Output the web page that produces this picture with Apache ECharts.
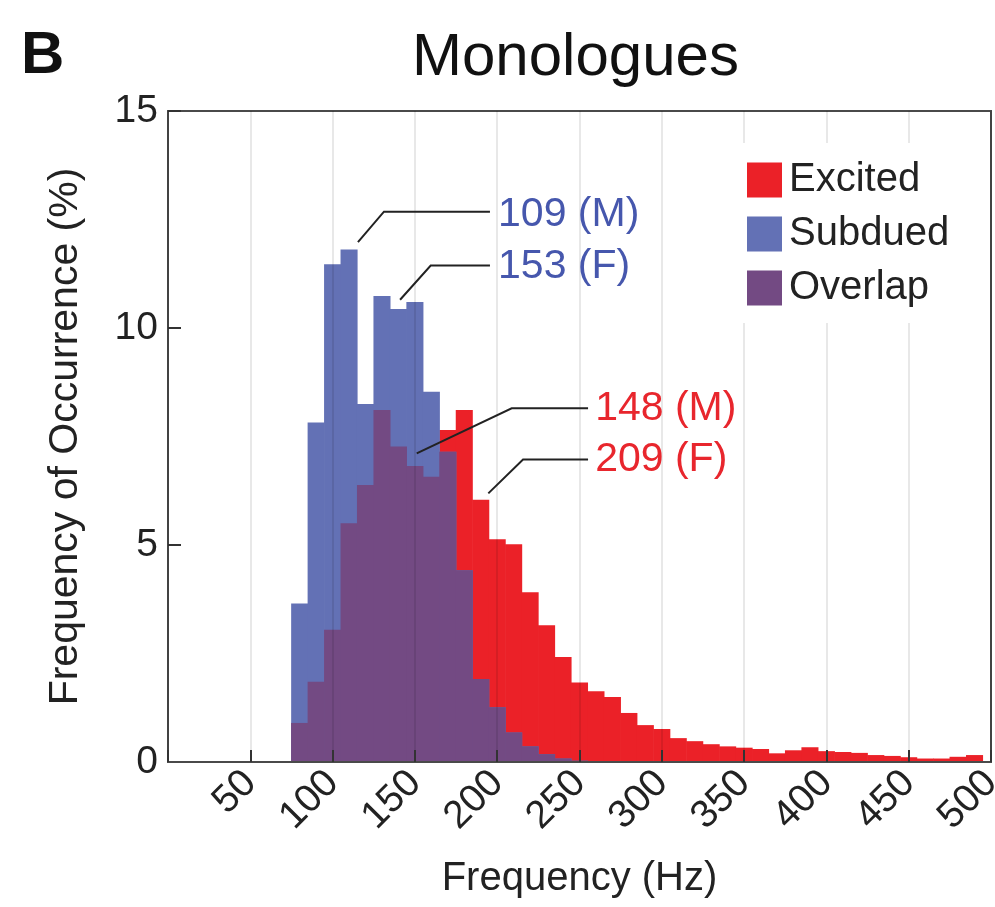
<!DOCTYPE html>
<html><head><meta charset="utf-8">
<script src="https://cdn.jsdelivr.net/npm/echarts@6/dist/echarts.min.js"></script>
<style>html,body{margin:0;padding:0;background:#fff;overflow:hidden}#c{width:995px;height:907px}</style>
</head><body><div id="c"></div>
<script>
// Histogram bins: centre frequency (Hz), 10 Hz wide
const binCenters = [80,90,100,110,120,130,140,150,160,170,180,190,200,210,220,230,240,250,260,270,280,290,300,310,320,330,340,350,360,370,380,390,400,410,420,430,440,450,460,470,480,490];
const binWidth = 10;
// Frequency of occurrence (%)
const excited = [0.9,1.85,3.05,5.5,6.38,8.11,7.27,6.82,6.57,7.65,8.11,6.04,5.13,5.02,3.91,3.15,2.42,1.83,1.63,1.50,1.13,0.85,0.76,0.55,0.48,0.41,0.36,0.33,0.30,0.20,0.27,0.34,0.25,0.23,0.21,0.16,0.14,0.11,0.08,0.08,0.12,0.16];
const subdued = [3.65,7.82,11.47,11.81,8.25,10.74,10.44,10.60,8.53,7.15,4.42,1.91,1.26,0.68,0.36,0.18,0.08,0.03,0,0,0,0,0,0,0,0,0,0,0,0,0,0,0,0,0,0,0,0,0,0,0,0];
const overlap = excited.map((v, i) => Math.min(v, subdued[i]));
const xTickLabels = [50,100,150,200,250,300,350,400,450,500];
const yTickLabels = [0,5,10,15];
const seriesNames = ['Excited','Subdued','Overlap'];
const annotationTexts = ['109 (M)','153 (F)','148 (M)','209 (F)'];

const FONT = '"Liberation Sans", Arial, Helvetica, sans-serif';
const COLORS = {Excited:'#EB2128', Subdued:'#6371B5', Overlap:'#734A83'};

function histSeries(name, values, z) {
  return {
    name, type:'custom', z,
    itemStyle:{color: COLORS[name]},
    data: binCenters.map((c, i) => [c, values[i]]),
    renderItem(params, api) {
      const c = api.value(0), v = api.value(1);
      if (!v) return null;
      const p0 = api.coord([c - binWidth/2, v]);
      const p1 = api.coord([c + binWidth/2, 0]);
      return {type:'rect', shape:{x:p0[0]-0.3, y:p0[1], width:p1[0]-p0[0]+0.6, height:p1[1]-p0[1]},
        style:{fill: COLORS[name]}};
    }
  };
}

// leader lines in data coordinates (Hz, %) and text anchors
const annos = [
  {text: annotationTexts[0], color:'#4657AD', pts:[[115.4,11.98],[131.2,12.68],[195.6,12.68]], at:[200.5,12.62]},
  {text: annotationTexts[1], color:'#4657AD', pts:[[141,10.65],[159.6,11.44],[195.6,11.44]], at:[200.5,11.42]},
  {text: annotationTexts[2], color:'#E8262D', pts:[[151.1,7.11],[208.8,8.15],[255.2,8.15]], at:[259.5,8.14]},
  {text: annotationTexts[3], color:'#E8262D', pts:[[194.6,6.19],[215.7,6.97],[255.2,6.97]], at:[259.5,6.97]}
];

const chart = echarts.init(document.getElementById('c'), null, {renderer:'canvas'});
chart.setOption({
  backgroundColor:'#fff',
  animation:false,
  textStyle:{fontFamily:FONT},
  title:[
    {text:'Monologues', left:412, top:28, padding:0, textStyle:{fontSize:60, fontWeight:'normal', color:'#111', fontFamily:FONT}},
    {text:'B', left:21, top:26, padding:0, textStyle:{fontSize:60, fontWeight:'bold', color:'#111', fontFamily:FONT}}
  ],
  legend:{
    data: seriesNames, orient:'vertical', left:735, top:143,
    padding:[17,14,15,12], backgroundColor:'#fff', z:6,
    icon:'rect', itemWidth:35, itemHeight:35, itemGap:14,
    textStyle:{fontSize:40, lineHeight:36, color:'#222', fontFamily:FONT, padding:[0,0,0,2]},
    selectedMode:false
  },
  grid:{left:168, right:4, top:111, bottom:145, show:true, borderColor:'#4a4a4a', borderWidth:2,
    containLabel:false, outerBoundsMode:'none'},
  xAxis:{
    type:'value', min:0, max:500, interval:50, z:3,
    name:'Frequency (Hz)', nameLocation:'middle', nameGap:97,
    nameTextStyle:{fontSize:40, color:'#222', fontFamily:FONT},
    axisLine:{show:true, lineStyle:{color:'#4a4a4a', width:2}},
    axisTick:{show:true, inside:true, length:12, lineStyle:{color:'#333', width:2}},
    axisLabel:{rotate:45, fontSize:39, color:'#222', margin:15, fontFamily:FONT,
      formatter: v => xTickLabels.includes(v) ? String(v) : ''},
    splitLine:{show:true, lineStyle:{color:'rgba(0,0,0,0.09)', width:2}}
  },
  yAxis:{
    type:'value', min:0, max:15, interval:5,
    name:'Frequency of Occurrence (%)', nameLocation:'middle', nameGap:82,
    nameTextStyle:{fontSize:41, color:'#222', fontFamily:FONT},
    axisLine:{show:true, lineStyle:{color:'#4a4a4a', width:2}},
    axisTick:{show:true, inside:true, length:13, lineStyle:{color:'#333', width:2}},
    axisLabel:{fontSize:39, color:'#222', margin:10, fontFamily:FONT,
      formatter: v => yTickLabels.includes(v) ? String(v) : ''},
    splitLine:{show:false}
  },
  series:[
    histSeries('Excited', excited, 2),
    histSeries('Subdued', subdued, 2),
    histSeries('Overlap', overlap, 2),
    {
      type:'custom', name:'annotations', z:5, silent:true,
      data: annos.map((a, i) => [a.at[0], a.at[1], i]),
      renderItem(params, api) {
        const a = annos[params.dataIndex];
        const pts = a.pts.map(p => api.coord(p));
        const t = api.coord(a.at);
        return {type:'group', children:[
          {type:'polyline', shape:{points:pts}, style:{stroke:'#222', lineWidth:2, fill:null}},
          {type:'text', x:t[0], y:t[1], style:{text:a.text, fill:a.color, fontSize:41, fontFamily:FONT, align:'left', verticalAlign:'middle'}}
        ]};
      }
    }
  ]
});
</script></body></html>
